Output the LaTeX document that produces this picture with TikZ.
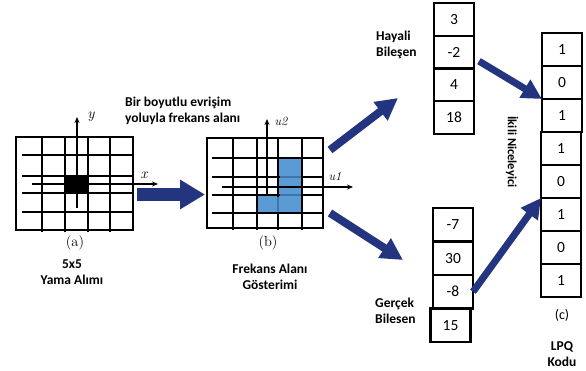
\documentclass[tikz,border=0pt]{standalone}
\usepackage{fontspec}
\setsansfont{Carlito}
\usetikzlibrary{arrows.meta,positioning}
\definecolor{navy}{HTML}{23357F}
\definecolor{cellblue}{HTML}{5B9BD5}
\definecolor{cellline}{HTML}{3F74A8}

\begin{document}
\begin{tikzpicture}[x=1pt,y=-1pt,
  gridline/.style={line width=2.2pt},
  gridbox/.style={draw,line width=2.2pt,inner sep=0pt,outer sep=0pt},
  axis/.style={line width=1.4pt,-{Stealth[length=6pt,width=5pt]}},
  axislabel/.style={font=\fontsize{15}{17}\selectfont\itshape,inner sep=0pt},
  sublabel/.style={font=\fontsize{14.5}{16}\selectfont,inner sep=0pt},
  bigarrow/.style={navy,line width=13pt,-{Triangle[length=25pt,width=28pt]}},
  midarrow/.style={navy,line width=8pt,-{Triangle[length=22pt,width=22pt]}},
  smallarrow/.style={navy,line width=7pt,-{Triangle[length=20pt,width=20pt]}},
  lbl/.style={font=\sffamily\bfseries\fontsize{13.5}{16}\selectfont,inner sep=0pt},
  num/.style={draw,line width=2.2pt,minimum width=40pt,inner sep=0pt,outer sep=0pt,
              font=\sffamily\fontsize{15.5}{17}\selectfont},
]
\useasboundingbox (0,0) rectangle (586,370);

% ---------- (a) 5x5 patch in the spatial domain ----------
\fill (65,176) rectangle (88,193);
\foreach \gx in {42,65,88,110} \draw[gridline] (\gx,137) -- (\gx,232);
\foreach \gy in {155,176,193,212} \draw[gridline] (22,\gy) -- (133,\gy);
\node[gridbox,minimum width=117pt,minimum height=93pt] (ga) at (74.5,183.5) {};
\draw[axis] (77,208) -- (77,117);
\draw[axis] (32,184) -- (158,184);
\node[axislabel] (ya) at (91,117) {y};
\node[axislabel] (xa) at (144,175) {x};
\node[sublabel] (capa) at (75,243) {(a)};
% multi-line labels are anchored at the baseline of their last line
\node[lbl,align=center,anchor=base] (patch) at (72,284) {5x5\\Yama Alımı};

% ---------- (b) frequency-domain grid ----------
\fill[cellblue] (278,158) rectangle (302,213);
\fill[cellblue] (257,195) rectangle (278,213);
\foreach \gx in {233,257,278,302} \draw[gridline] (\gx,138) -- (\gx,230);
\foreach \gy in {158,177,195,213} \draw[gridline] (212,\gy) -- (323,\gy);
\draw[cellline,line width=1.3pt] (279.5,177) -- (300.5,177) (279.5,195) -- (300.5,195) (278,196.5) -- (278,211.5);
\node[gridbox,minimum width=116pt,minimum height=90pt] (gb) at (265,183) {};
\draw[axis] (267,195) -- (267,119);
\draw[axis] (222,187) -- (353,187);
\node[axislabel,font=\fontsize{12.5}{14}\selectfont\itshape] (u2) at (281,121) {u2};
\node[axislabel,font=\fontsize{12.5}{14}\selectfont\itshape] (u1) at (335,176) {u1};
\node[sublabel] (capb) at (268,243) {(b)};
\node[lbl,align=center,anchor=base] (freq) at (270,289) {Frekans Alanı\\Gösterimi};

\node[lbl,align=left,anchor=base west] (conv) at (125,122) {Bir boyutlu evrişim\\yoluyla frekans alanı};

% ---------- imaginary and real components ----------
\node[num,minimum height=32.75pt] (h1) at (454,19.4) {3};
\node[num,minimum height=32.75pt,below=0pt of h1] (h2) {-2};
\node[num,minimum height=32.75pt,below=0pt of h2] (h3) {4};
\node[num,minimum height=32.75pt,below=0pt of h3] (h4) {18};
\node[lbl,align=left,anchor=base west] (imag) at (376,56) {Hayali\\Bileşen};

\node[num,minimum height=33.5pt] (g1) at (453,224.75) {-7};
\node[num,minimum height=33.5pt,below=0pt of g1] (g2) {30};
\node[num,minimum height=33.5pt,below=0pt of g2] (g3) {-8};
\node[num,minimum height=33.5pt,below=0pt of g3,xshift=-2.5pt] (g4) {15};
\node[lbl,align=left,anchor=base west] (real) at (375,323) {Gerçek\\Bilesen};

% ---------- LPQ code column ----------
\node[num,minimum height=33pt] (l1) at (562,49.5) {1};
\node[num,minimum height=33pt,below=0pt of l1] (l2) {0};
\node[num,minimum height=33pt,below=0pt of l2] (l3) {1};
\node[num,minimum height=33pt,below=0pt of l3,xshift=-1pt] (l4) {1};
\node[num,minimum height=33pt,below=0pt of l4] (l5) {0};
\node[num,minimum height=33pt,below=0pt of l5] (l6) {1};
\node[num,minimum height=33pt,below=0pt of l6] (l7) {0};
\node[num,minimum height=33pt,below=0pt of l7] (l8) {1};
\node[sublabel,font=\sffamily\fontsize{14}{16}\selectfont] (capc) at (562,315) {(c)};
\node[lbl,align=center,anchor=base] (lpq) at (562,366) {LPQ\\Kodu};

\node[lbl,font=\sffamily\bfseries\fontsize{12.5}{15}\selectfont,rotate=-90] (quant) at (512,152) {İkili Niceleyici};

% ---------- arrows ----------
\coordinate (tipH) at (398,98);
\coordinate (tipG) at (403,260);
\draw[bigarrow] ([xshift=4pt,yshift=-11pt]ga.east) -- ([xshift=-2pt,yshift=-11.5pt]gb.west);
\draw[midarrow] ([xshift=7pt,yshift=-12pt]gb.north east) -- (tipH);
\draw[midarrow] ([xshift=7pt,yshift=15pt]gb.south east) -- (tipG);
\draw[smallarrow] ([xshift=5pt,yshift=-9pt]h2.east) -- (l3.north west);
\draw[smallarrow] (g3.east) -- (l6.north west);
\end{tikzpicture}
\end{document}
